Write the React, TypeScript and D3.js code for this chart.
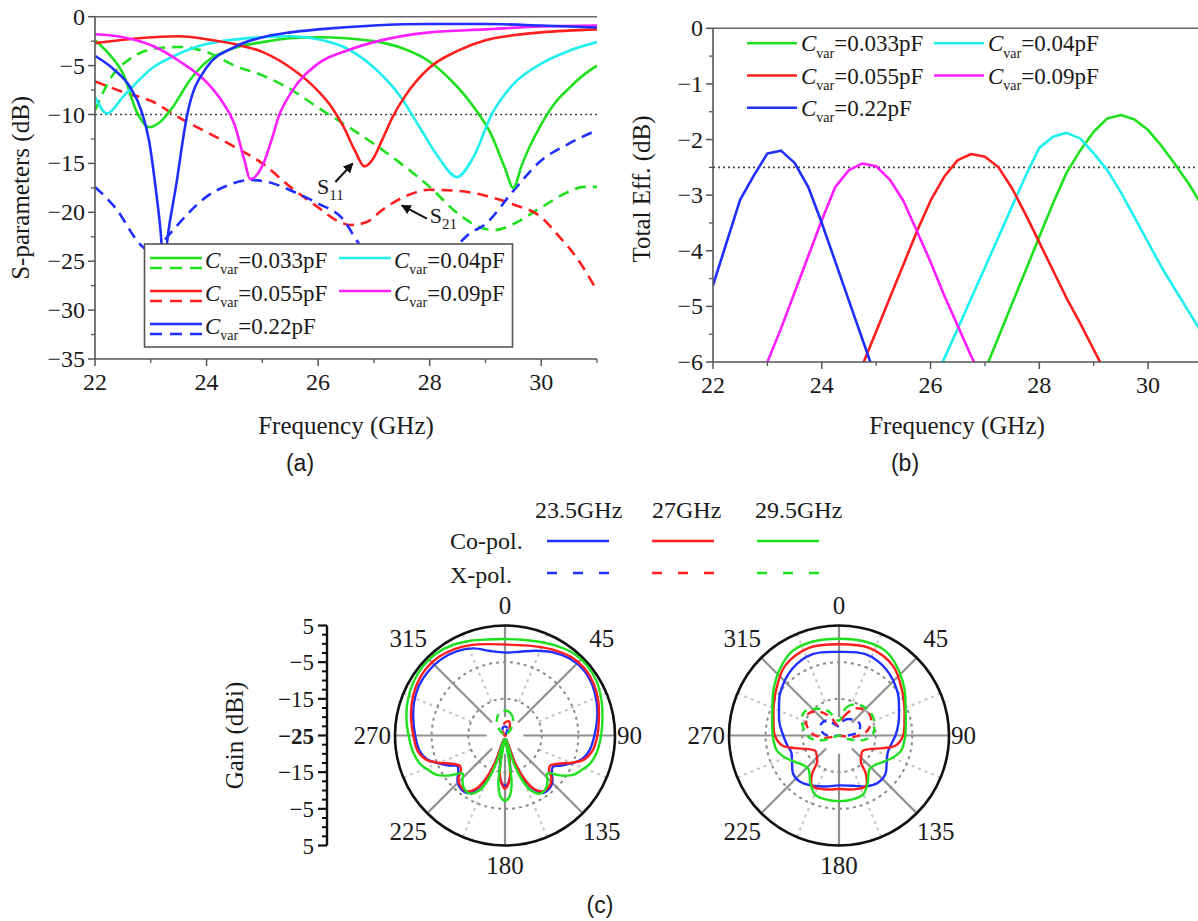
import React from 'react';
import * as d3 from 'd3';

type P = [number, number];

const SERIF = 'Liberation Serif, DejaVu Serif, serif';
const SANS = 'Liberation Sans, Arial, sans-serif';
const TXT = '#1a1a1a';

const COL = {
  green: '#1fe01f',
  cyan: '#1fefef',
  red: '#ff1e1e',
  magenta: '#ff1eff',
  blue: '#1f2fff',
};

// ---------------- Panel (a): S-parameters [GHz, dB] ----------------
const freqTicks = [22, 24, 26, 28, 30];
const sParamTicks = [0, -5, -10, -15, -20, -25, -30, -35];
const effTicks = [0, -1, -2, -3, -4, -5, -6];

const s11_033: P[] = [[22, -2.4], [22.25, -3.8], [22.5, -5.8], [22.77, -10], [22.97, -11.3], [23.2, -10.6], [23.4, -9.2], [23.7, -6.5], [24, -4.6], [24.5, -3.2], [25, -2.6], [25.5, -2.2], [26, -2.1], [26.5, -2.2], [27, -2.5], [27.5, -3.2], [28, -4.6], [28.4, -6.6], [28.8, -9.3], [29.1, -12], [29.35, -15.5], [29.5, -17.5], [29.65, -15.2], [29.8, -13.2], [30, -11], [30.25, -8.8], [30.5, -7.3], [30.75, -6.0], [31, -5.0]];
const s11_04: P[] = [[22, -8.2], [22.22, -9.9], [22.5, -8.2], [23.04, -5.2], [23.5, -3.8], [24, -2.8], [25, -2.1], [25.5, -2.0], [26, -2.3], [26.46, -3.1], [27, -5.2], [27.48, -8.2], [27.82, -11.3], [28.16, -14.4], [28.49, -16.4], [28.78, -14.4], [29.12, -9.9], [29.5, -6.9], [30, -4.8], [30.49, -3.5], [31, -2.6]];
const s11_055: P[] = [[22, -2.7], [23.04, -2.1], [23.5, -2.0], [24, -2.3], [24.5, -2.8], [25, -3.6], [25.5, -5.2], [26, -7.6], [26.25, -9.3], [26.46, -11.3], [26.66, -13.7], [26.83, -15.3], [27, -14.4], [27.14, -12.7], [27.35, -10.1], [27.55, -8.2], [28, -5.2], [28.5, -3.5], [29, -2.4], [29.5, -1.9], [30, -1.6], [31, -1.3]];
const s11_09: P[] = [[22, -1.8], [22.5, -2.1], [23.04, -3.0], [23.5, -4.5], [24, -6.7], [24.27, -8.6], [24.5, -11], [24.68, -14.7], [24.78, -16.6], [25.02, -15], [25.16, -12.7], [25.3, -10.1], [25.5, -7.9], [26, -4.8], [26.5, -3.5], [27, -2.6], [28, -1.6], [29, -1.3], [30, -1.0], [31, -0.9]];
const s11_22: P[] = [[22, -4.0], [22.36, -5.5], [22.63, -7.2], [22.83, -9.6], [22.97, -12.7], [23.1, -18.1], [23.18, -22.2], [23.23, -26], [23.31, -22.2], [23.45, -17.4], [23.65, -10.1], [24, -5.2], [24.5, -3.1], [25, -2.1], [25.5, -1.6], [26, -1.3], [27, -0.9], [28, -0.75], [29, -0.75], [30, -0.9], [31, -1.1]];

const s21_033: P[] = [[22, -9.6], [22.29, -6.2], [22.63, -4.3], [23.04, -3.3], [23.5, -3.1], [24, -3.6], [24.5, -5], [25, -6], [25.5, -7.4], [26, -9.3], [26.5, -11.1], [27, -13], [27.48, -15], [28, -17.4], [28.5, -20.1], [29, -21.7], [29.19, -21.8], [29.5, -21.2], [30, -19.5], [30.49, -17.9], [30.76, -17.4], [31, -17.4]];
const s21_055: P[] = [[22, -6.6], [22.5, -7.7], [23.04, -8.7], [23.5, -10.3], [24, -11.8], [24.5, -13.3], [25, -15], [25.5, -17.4], [26, -19.5], [26.32, -20.8], [26.59, -21.3], [26.87, -21], [27.14, -19.8], [27.55, -18.4], [28, -17.7], [28.5, -17.8], [29, -18.3], [29.5, -19.2], [30, -20.5], [30.28, -22.2], [30.63, -24.6], [31, -28]];
const s21_22: P[] = [[22, -17.4], [22.36, -19.5], [22.83, -23.4], [23.04, -24.2], [23.24, -22.9], [23.45, -21.5], [24, -18.4], [24.4, -17.2], [24.78, -16.7], [25.09, -16.9], [25.64, -18.1], [26, -19.1], [26.46, -20.8], [26.73, -23.2], [27.2, -25.5], [27.8, -26], [28.3, -24.5], [28.71, -22.2], [29, -21.2], [29.5, -17.8], [30, -14.7], [30.49, -13], [31, -11.6]];

const capLabels = ['0.033', '0.04', '0.055', '0.09', '0.22'];

// ---------------- Panel (b): total efficiency [GHz, dB] ----------------
const eff_033: P[] = [[27, -6.15], [27.25, -5.55], [27.5, -4.95], [27.75, -4.35], [28, -3.75], [28.25, -3.15], [28.5, -2.6], [28.75, -2.2], [29, -1.86], [29.25, -1.62], [29.5, -1.56], [29.75, -1.64], [30, -1.83], [30.25, -2.12], [30.5, -2.45], [30.75, -2.8], [31, -3.2]];
const eff_04: P[] = [[26.2, -6.05], [26.5, -5.4], [26.75, -4.85], [27, -4.3], [27.25, -3.75], [27.5, -3.2], [27.75, -2.65], [28, -2.15], [28.25, -1.95], [28.5, -1.88], [28.75, -1.98], [29, -2.25], [29.25, -2.55], [29.5, -2.95], [29.75, -3.4], [30, -3.85], [30.25, -4.3], [30.5, -4.7], [30.75, -5.1], [31, -5.5]];
const eff_055: P[] = [[24.75, -6.05], [25, -5.45], [25.25, -4.85], [25.5, -4.25], [25.75, -3.65], [26, -3.1], [26.25, -2.67], [26.5, -2.37], [26.75, -2.26], [27, -2.31], [27.25, -2.5], [27.5, -2.88], [27.75, -3.35], [28, -3.85], [28.25, -4.35], [28.5, -4.85], [28.75, -5.3], [29, -5.78], [29.25, -6.25]];
const eff_09: P[] = [[23, -6], [23.25, -5.4], [23.5, -4.75], [23.75, -4.1], [24, -3.45], [24.25, -2.85], [24.5, -2.55], [24.75, -2.43], [25, -2.48], [25.25, -2.72], [25.5, -3.1], [25.75, -3.65], [26, -4.2], [26.25, -4.8], [26.5, -5.35], [26.75, -5.9], [27, -6.4]];
const eff_22: P[] = [[22, -4.62], [22.25, -3.85], [22.5, -3.08], [22.75, -2.65], [23, -2.25], [23.25, -2.2], [23.5, -2.42], [23.75, -2.85], [24, -3.5], [24.25, -4.2], [24.5, -4.9], [24.75, -5.6], [25, -6.3]];

// ---------------- Panel (c): radiation patterns [deg, dBi] ----------------
const gainTicks = [5, -5, -15, -25, -15, -5, 5];
const angleTicks = [0, 45, 90, 135, 180, 225, 270, 315];
const freqLabels = ['23.5GHz', '27GHz', '29.5GHz'];

const coL_235: P[] = [[0, -2.4], [10, -1.8], [20, -0.4], [30, 1.2], [40, 2.4], [50, 2.9], [60, 2.5], [70, 1.6], [80, 0.5], [90, -0.6], [100, -1.6], [107, -3.0], [112, -5.0], [118, -7.6], [123, -9.4], [128, -8.8], [134, -7.0], [140, -6.1], [147, -6.3], [152, -8.3], [156, -11.5], [160, -17], [165, -24], [170, -17], [174, -13], [180, -11.3], [186, -13], [190, -17], [195, -24], [200, -17], [204, -11.5], [208, -8.3], [213, -6.3], [220, -6.1], [226, -7.0], [232, -8.8], [237, -9.6], [242, -7.6], [248, -5.0], [253, -2.8], [260, -1.3], [270, -0.5], [280, 0.4], [290, 1.4], [300, 2.1], [310, 2.3], [320, 2.1], [330, 1.5], [340, 0.3], [350, -1.6]];
const coL_27: P[] = [[0, -0.2], [10, 0.0], [20, 0.8], [30, 1.9], [40, 3.0], [50, 3.4], [60, 3.0], [70, 2.1], [80, 1.0], [90, 0.2], [100, -0.8], [107, -2.5], [112, -5.2], [118, -8.6], [124, -10.2], [129, -9.5], [133, -7.6], [139, -6.6], [146, -6.6], [152, -8.7], [156, -12], [160, -17], [165, -24], [170, -18], [174, -13], [180, -10.5], [186, -13], [190, -18], [195, -24], [200, -17], [204, -12], [208, -8.7], [214, -6.6], [221, -6.6], [227, -7.6], [231, -9.5], [236, -10.2], [242, -8.6], [248, -5.2], [253, -2.5], [260, -0.8], [270, 0.0], [280, 1.0], [290, 2.0], [300, 2.8], [310, 3.2], [320, 3.0], [330, 2.3], [340, 1.3], [350, 0.3]];
const coL_295: P[] = [[0, 1.3], [10, 1.5], [20, 2.2], [30, 3.2], [40, 4.2], [50, 4.4], [60, 4.0], [70, 3.0], [80, 2.0], [90, 1.2], [100, 0.5], [108, -0.5], [114, -2.0], [120, -3.5], [126, -6.5], [132, -9.5], [137, -8.0], [142, -6.8], [149, -6.5], [155, -8.5], [159, -12], [163, -18], [167, -24], [172, -12], [176, -8.2], [180, -7.2], [184, -8.2], [188, -12], [193, -24], [197, -18], [201, -12], [205, -8.5], [211, -6.5], [218, -6.8], [223, -8.0], [228, -9.5], [234, -6.5], [240, -3.5], [246, -2.0], [252, -0.5], [260, 0.5], [270, 1.3], [280, 2.3], [290, 3.2], [300, 3.9], [310, 4.3], [320, 4.2], [330, 3.5], [340, 2.5], [350, 1.6]];
const xL_235: P[] = [[0, -22.5], [20, -23], [40, -24.8], [90, -24.9], [180, -24.9], [270, -24.9], [320, -24.8], [340, -23]];
const xL_27: P[] = [[0, -21.5], [15, -21], [30, -22.5], [50, -24.8], [120, -24.9], [200, -24.9], [300, -24.8], [330, -24], [345, -22.5]];
const xL_295: P[] = [[0, -18.2], [15, -18.8], [30, -20.5], [45, -23], [65, -24.8], [150, -24.9], [210, -24.9], [295, -24.8], [315, -23], [330, -20.5], [345, -18.8]];

const coR_235: P[] = [[0, -2.2], [18, -1.7], [35, -2.8], [54, -5.2], [66, -7.1], [78, -8.4], [90, -9.6], [100, -10.6], [110, -10.9], [120, -10.0], [130, -8.5], [140, -8.3], [152, -9.3], [165, -10.8], [180, -11.4], [195, -10.6], [208, -9.5], [220, -8.5], [230, -8.7], [240, -10.2], [250, -11.2], [260, -10.6], [270, -9.8], [282, -8.4], [294, -7.1], [306, -5.2], [325, -2.8], [342, -1.7]];
const coR_27: P[] = [[0, -0.1], [19, 0.3], [38, -1.0], [56, -4.1], [66, -5.5], [76, -6.6], [90, -7.5], [100, -9.3], [106, -12.5], [114, -15.9], [123, -17.3], [135, -16.5], [141, -15.5], [145, -12.2], [152, -9.4], [165, -9.8], [180, -10.4], [195, -9.8], [208, -9.4], [215, -12.2], [219, -15.5], [225, -16.5], [237, -17.3], [246, -15.9], [254, -12.5], [260, -9.3], [270, -7.5], [284, -6.6], [294, -5.5], [304, -4.1], [322, -1.0], [341, 0.3]];
const coR_295: P[] = [[0, 1.4], [16, 1.6], [29, 1.3], [42, -0.8], [55, -3.2], [68, -5.4], [80, -6.5], [92, -7.0], [104, -7.6], [113, -9.3], [122, -11.2], [130, -12.4], [138, -12.6], [144, -11.4], [149, -9.8], [158, -7.6], [168, -7.2], [180, -7.1], [192, -7.2], [202, -7.6], [211, -9.8], [216, -11.4], [222, -12.6], [230, -12.4], [238, -11.2], [247, -9.3], [256, -7.6], [268, -7.0], [280, -6.5], [292, -5.4], [305, -3.2], [318, -0.8], [331, 1.3], [344, 1.6]];
const xR_235: P[] = [[0, -22.5], [20, -20.5], [40, -19.3], [60, -18.5], [78, -19.5], [92, -23], [105, -24.9], [250, -24.9], [268, -22], [285, -20], [305, -19.2], [322, -19.8], [340, -21.8]];
const xR_27: P[] = [[0, -22], [15, -19.5], [30, -16.5], [45, -15.2], [58, -14.9], [72, -16], [85, -18], [95, -21], [108, -24.9], [250, -24.9], [262, -20.5], [275, -17.5], [290, -15.5], [305, -14.7], [320, -16.5], [335, -19.5], [350, -22]];
const xR_295: P[] = [[0, -21], [15, -17], [30, -15.2], [45, -14.5], [60, -14.4], [75, -15.0], [88, -15.8], [100, -18], [110, -22], [122, -24.9], [240, -24.9], [255, -20], [265, -17], [280, -15.3], [295, -13.8], [305, -13.6], [320, -15.5], [335, -17.5], [350, -20.5]];

// ---------------- helpers ----------------
const LW = 2.6;
const DASH = '11,7';
const TICK_FS = 24;
const TITLE_FS = 25;

function CvarText({ x, y, value, size }: { x: number; y: number; value: string; size: number }) {
  const sub = Math.round(size * 0.62);
  return (
    <text x={x} y={y} fontSize={size} fill={TXT} style={{ fontFamily: SERIF }}>
      <tspan fontStyle="italic">C</tspan>
      <tspan fontSize={sub} dy={size * 0.28}>var</tspan>
      <tspan dy={-size * 0.28}>={value}pF</tspan>
    </text>
  );
}

function minus(v: number) {
  return v < 0 ? '\u2212' + Math.abs(v) : String(v);
}

function PanelA() {
  const x = d3.scaleLinear().domain([22, 31]).range([95, 597]);
  const y = d3.scaleLinear().domain([-35, 0]).range([359, 16.7]);
  const line = d3.line<P>().x(d => x(d[0])).y(d => y(d[1])).curve(d3.curveMonotoneX);
  const solids: [P[], string][] = [[s11_033, COL.green], [s11_04, COL.cyan], [s11_055, COL.red], [s11_09, COL.magenta], [s11_22, COL.blue]];
  const dashed: [P[], string][] = [[s21_033, COL.green], [s21_055, COL.red], [s21_22, COL.blue]];
  const minorX = d3.range(23, 31.01, 2);
  const minorY = d3.range(-2.5, -35, -5);
  const legendCols = [150, 339];
  const legendColors = [COL.green, COL.cyan, COL.red, COL.magenta, COL.blue];
  const legendDashed = [true, false, true, false, true];
  return (
    <g>
      <defs>
        <clipPath id="clipA"><rect x={x(22)} y={y(0)} width={x(31) - x(22)} height={y(-35) - y(0)} /></clipPath>
      </defs>
      <line x1={x(22)} x2={x(31)} y1={y(-10)} y2={y(-10)} stroke="#444" strokeWidth={1.6} strokeDasharray="2,3" />
      <g clipPath="url(#clipA)" fill="none">
        {dashed.map(([d, c], i) => <path key={'d' + i} d={line(d) || ''} stroke={c} strokeWidth={LW} strokeDasharray={DASH} />)}
        {solids.map(([d, c], i) => <path key={'s' + i} d={line(d) || ''} stroke={c} strokeWidth={LW} />)}
      </g>
      <line x1={x(22)} x2={x(31)} y1={y(0)} y2={y(0)} stroke="#666" strokeWidth={1.5} />
      <line x1={x(22)} x2={x(22)} y1={y(0)} y2={y(-35)} stroke="#555" strokeWidth={1.6} />
      <line x1={x(22)} x2={x(31)} y1={y(-35)} y2={y(-35)} stroke="#555" strokeWidth={1.6} />
      {freqTicks.map(t => (
        <g key={'xt' + t}>
          <line x1={x(t)} x2={x(t)} y1={y(-35)} y2={y(-35) + 7} stroke="#555" strokeWidth={1.5} />
          <text x={x(t)} y={y(-35) + 31} textAnchor="middle" fontSize={TICK_FS} fill={TXT}>{t}</text>
        </g>
      ))}
      {minorX.map(t => <line key={'xm' + t} x1={x(t)} x2={x(t)} y1={y(-35)} y2={y(-35) + 4} stroke="#555" strokeWidth={1.3} />)}
      {sParamTicks.map(t => (
        <g key={'yt' + t}>
          <line x1={x(22) - 7} x2={x(22)} y1={y(t)} y2={y(t)} stroke="#555" strokeWidth={1.5} />
          <text x={x(22) - 10} y={y(t) + 8} textAnchor="end" fontSize={TICK_FS} fill={TXT}>{minus(t)}</text>
        </g>
      ))}
      {minorY.map(t => <line key={'ym' + t} x1={x(22) - 4} x2={x(22)} y1={y(t)} y2={y(t)} stroke="#555" strokeWidth={1.3} />)}
      <text transform={`translate(29,${(y(0) + y(-35)) / 2}) rotate(-90)`} textAnchor="middle" fontSize={TITLE_FS} fill={TXT}>S-parameters (dB)</text>
      <text x={(x(22) + x(31)) / 2} y={434} textAnchor="middle" fontSize={TITLE_FS} fill={TXT}>Frequency (GHz)</text>
      <text x={300} y={471} textAnchor="middle" fontSize={23} fill={TXT} style={{ fontFamily: SANS }}>(a)</text>
      <line x1={x(26.31)} y1={y(-16.9)} x2={x(26.62)} y2={y(-15.0)} stroke="#111" strokeWidth={2} markerEnd="url(#arr)" />
      <text x={x(25.98)} y={y(-18.1)} fontSize={22} fill={TXT}>S<tspan fontSize={15} dy={6}>11</tspan></text>
      <line x1={x(27.95)} y1={y(-20.65)} x2={x(27.5)} y2={y(-19.3)} stroke="#111" strokeWidth={2} markerEnd="url(#arr)" />
      <text x={x(28.0)} y={y(-21.1)} fontSize={22} fill={TXT}>S<tspan fontSize={15} dy={6}>21</tspan></text>
      <rect x={144.5} y={244} width={368} height={103} fill="#fff" stroke="#555" strokeWidth={1.6} />
      {capLabels.map((lab, i) => {
        const col = i % 2;
        const row = Math.floor(i / 2);
        const lx = legendCols[col];
        const ly = 258 + row * 33;
        return (
          <g key={'lg' + i}>
            <line x1={lx} x2={lx + 52} y1={ly} y2={ly} stroke={legendColors[i]} strokeWidth={LW} />
            {legendDashed[i] && <line x1={lx} x2={lx + 52} y1={ly + 10} y2={ly + 10} stroke={legendColors[i]} strokeWidth={LW} strokeDasharray="12,8" />}
            <CvarText x={lx + 55} y={ly + 10} value={lab} size={23} />
          </g>
        );
      })}
    </g>
  );
}

function PanelB() {
  const x = d3.scaleLinear().domain([22, 31]).range([713, 1202.5]);
  const y = d3.scaleLinear().domain([-6, 0]).range([362, 28.3]);
  const line = d3.line<P>().x(d => x(d[0])).y(d => y(d[1]));
  const series: [P[], string][] = [[eff_033, COL.green], [eff_04, COL.cyan], [eff_055, COL.red], [eff_09, COL.magenta], [eff_22, COL.blue]];
  const minorX = d3.range(23, 31.01, 2);
  const minorY = d3.range(-0.5, -6, -1);
  const legendCols = [747, 934];
  const legendColors = [COL.green, COL.cyan, COL.red, COL.magenta, COL.blue];
  const right = 1198;
  return (
    <g>
      <defs>
        <clipPath id="clipB"><rect x={x(22)} y={y(0)} width={right - x(22)} height={y(-6) - y(0)} /></clipPath>
      </defs>
      <line x1={x(22)} x2={right} y1={y(-2.5)} y2={y(-2.5)} stroke="#444" strokeWidth={1.6} strokeDasharray="2,3" />
      <g clipPath="url(#clipB)" fill="none">
        {series.map(([d, c], i) => <path key={i} d={line(d) || ''} stroke={c} strokeWidth={LW} strokeLinejoin="round" />)}
      </g>
      <line x1={x(22)} x2={right} y1={y(0)} y2={y(0)} stroke="#666" strokeWidth={1.5} />
      <line x1={x(22)} x2={x(22)} y1={y(0)} y2={y(-6)} stroke="#555" strokeWidth={1.6} />
      <line x1={x(22)} x2={right} y1={y(-6)} y2={y(-6)} stroke="#555" strokeWidth={1.6} />
      {freqTicks.map(t => (
        <g key={'xt' + t}>
          <line x1={x(t)} x2={x(t)} y1={y(-6)} y2={y(-6) + 7} stroke="#555" strokeWidth={1.5} />
          <text x={x(t)} y={y(-6) + 31} textAnchor="middle" fontSize={TICK_FS} fill={TXT}>{t}</text>
        </g>
      ))}
      {minorX.map(t => <line key={'xm' + t} x1={x(t)} x2={x(t)} y1={y(-6)} y2={y(-6) + 4} stroke="#555" strokeWidth={1.3} />)}
      {effTicks.map(t => (
        <g key={'yt' + t}>
          <line x1={x(22) - 7} x2={x(22)} y1={y(t)} y2={y(t)} stroke="#555" strokeWidth={1.5} />
          <text x={x(22) - 10} y={y(t) + 8} textAnchor="end" fontSize={TICK_FS} fill={TXT}>{minus(t)}</text>
        </g>
      ))}
      {minorY.map(t => <line key={'ym' + t} x1={x(22) - 4} x2={x(22)} y1={y(t)} y2={y(t)} stroke="#555" strokeWidth={1.3} />)}
      <text transform={`translate(650,189) rotate(-90)`} textAnchor="middle" fontSize={TITLE_FS} fill={TXT}>Total Eff. (dB)</text>
      <text x={957} y={434} textAnchor="middle" fontSize={TITLE_FS} fill={TXT}>Frequency (GHz)</text>
      <text x={905} y={471} textAnchor="middle" fontSize={23} fill={TXT} style={{ fontFamily: SANS }}>(b)</text>
      {capLabels.map((lab, i) => {
        const col = i % 2;
        const row = Math.floor(i / 2);
        const lx = legendCols[col];
        const ly = 43.3 + row * 32.2;
        return (
          <g key={'lg' + i}>
            <line x1={lx} x2={lx + 50} y1={ly} y2={ly} stroke={legendColors[i]} strokeWidth={LW} />
            <CvarText x={lx + 54} y={ly + 8} value={lab} size={23} />
          </g>
        );
      })}
    </g>
  );
}

function Polar({ cx, cy, co, xp }: { cx: number; cy: number; co: P[][]; xp: P[][] }) {
  const R = 110;
  const r = d3.scaleLinear().domain([-25, 5]).range([0, R]).clamp(true);
  const radial = d3.lineRadial<P>()
    .angle(d => (d[0] * Math.PI) / 180)
    .radius(d => r(d[1]))
    .curve(d3.curveCatmullRomClosed.alpha(0.5));
  const cols = [COL.blue, COL.red, COL.green];
  const pt = (deg: number, rad: number) => [rad * Math.sin((deg * Math.PI) / 180), -rad * Math.cos((deg * Math.PI) / 180)];
  const major = d3.range(0, 360, 45);
  const minor = d3.range(22.5, 360, 45);
  return (
    <g transform={`translate(${cx},${cy})`}>
      {minor.map(a => {
        const [x1, y1] = pt(a, r(-15));
        const [x2, y2] = pt(a, R);
        return <line key={'mn' + a} x1={x1} y1={y1} x2={x2} y2={y2} stroke="#c4c4c4" strokeWidth={2} strokeDasharray="3,4" />;
      })}
      {[-15, -5].map(g => <circle key={'c' + g} r={r(g)} fill="none" stroke="#8a8a8a" strokeWidth={2} strokeDasharray="3,4" />)}
      {major.map(a => {
        const [x1, y1] = pt(a, r(-20));
        const [x2, y2] = pt(a, R);
        return <line key={'mj' + a} x1={x1} y1={y1} x2={x2} y2={y2} stroke="#8f8f8f" strokeWidth={2.2} />;
      })}
      <circle r={R} fill="none" stroke="#111" strokeWidth={2.6} />
      {xp.map((d, i) => <path key={'x' + i} d={radial(d) || ''} fill="none" stroke={cols[i]} strokeWidth={2.4} strokeDasharray="8,6" />)}
      {co.map((d, i) => <path key={'c' + i} d={radial(d) || ''} fill="none" stroke={cols[i]} strokeWidth={2.4} />)}
      {angleTicks.map(a => {
        let anchor: 'middle' | 'start' | 'end' = 'middle';
        let rad = 130;
        if (a === 90) { anchor = 'start'; rad = 112; }
        if (a === 270) { anchor = 'end'; rad = 114; }
        if (a % 90 !== 0) rad = 137;
        const [tx, ty] = pt(a, rad);
        return <text key={'a' + a} x={tx} y={ty + 8} textAnchor={anchor} fontSize={25} fill={TXT}>{a}</text>;
      })}
    </g>
  );
}

function PanelC() {
  const cy = 735.5;
  const gy = d3.scaleLinear().domain([-25, 5]).range([0, 110]);
  const ax = 327;
  const minorG = d3.range(-22.5, 5, 2.5).filter(v => Math.abs((v + 25) % 10) > 0.01);
  const legX = [547, 652, 757];
  const headX = [535, 652, 755];
  const legCols = [COL.blue, COL.red, COL.green];
  const gPos = (i: number, g: number) => (i < 3 ? cy - gy(g) : i === 3 ? cy : cy + gy(g));
  return (
    <g>
      {freqLabels.map((f, i) => (
        <text key={f} x={headX[i]} y={518} fontSize={24} fill={TXT}>{f}</text>
      ))}
      <text x={450} y={549} fontSize={24} fill={TXT}>Co-pol.</text>
      <text x={450} y={583} fontSize={24} fill={TXT}>X-pol.</text>
      {legCols.map((c, i) => (
        <g key={'lc' + i}>
          <line x1={legX[i]} x2={legX[i] + 62} y1={541} y2={541} stroke={c} strokeWidth={2.6} />
          <line x1={legX[i]} x2={legX[i] + 62} y1={573} y2={573} stroke={c} strokeWidth={2.6} strokeDasharray="10,16" />
        </g>
      ))}
      <line x1={ax} x2={ax} y1={cy - 110} y2={cy + 110} stroke="#111" strokeWidth={2.4} />
      {gainTicks.map((g, i) => {
        const yy = gPos(i, g);
        return (
          <g key={'g' + i}>
            <line x1={ax - 9} x2={ax} y1={yy} y2={yy} stroke="#111" strokeWidth={2.2} />
            <text x={ax - 13} y={yy + 8} textAnchor="end" fontSize={23} fill={TXT} fontWeight={g === -25 ? 'bold' : 'normal'}>{minus(g)}</text>
          </g>
        );
      })}
      {minorG.map(g => [-1, 1].map(s => {
        const yy = cy + s * gy(g);
        return <line key={'mg' + g + s} x1={ax - 5} x2={ax} y1={yy} y2={yy} stroke="#111" strokeWidth={2} />;
      }))}
      <text transform={`translate(243,${cy}) rotate(-90)`} textAnchor="middle" fontSize={TITLE_FS} fill={TXT}>Gain (dBi)</text>
      <Polar cx={505} cy={cy} co={[coL_235, coL_27, coL_295]} xp={[xL_235, xL_27, xL_295]} />
      <Polar cx={839} cy={cy} co={[coR_235, coR_27, coR_295]} xp={[xR_235, xR_27, xR_295]} />
      <text x={600} y={913} textAnchor="middle" fontSize={23} fill={TXT} style={{ fontFamily: SANS }}>(c)</text>
    </g>
  );
}

export default function App() {
  return (
    <svg width={1198} height={921} viewBox="0 0 1198 921" style={{ position: 'absolute', left: 0, top: 0, background: '#fff', fontFamily: SERIF }}>
      <defs>
        <marker id="arr" viewBox="0 0 10 10" refX="9" refY="5" markerWidth="5" markerHeight="5" orient="auto">
          <path d="M0,0 L10,5 L0,10 z" fill="#111" />
        </marker>
      </defs>
      <rect width={1198} height={921} fill="#fff" />
      <PanelA />
      <PanelB />
      <PanelC />
    </svg>
  );
}
